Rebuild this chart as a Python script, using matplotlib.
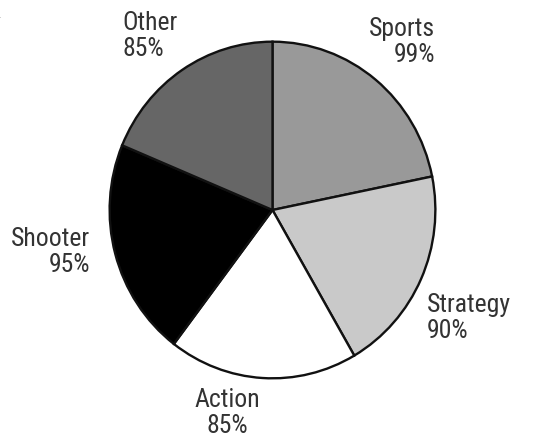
import matplotlib
matplotlib.use("Agg")
import matplotlib.pyplot as plt
from matplotlib import font_manager

categories = ["Sports", "Strategy", "Action", "Shooter", "Other"]
values = [99, 90, 85, 95, 85]
pct_labels = ["99%", "90%", "85%", "95%", "85%"]
colors = ["#999999", "#c9c9c9", "#ffffff", "#000000", "#666666"]

# pick a narrow sans font if one is installed
fonts = font_manager.fontManager.ttflist
names = {f.name for f in fonts}
fam, stretch = "Liberation Sans", "normal"
for cand in ["Liberation Sans Narrow", "Arial Narrow", "Roboto Condensed",
             "Open Sans Condensed", "Noto Sans Condensed"]:
    if cand in names:
        fam = cand
        break
else:
    for f in fonts:
        if f.name in ("Roboto", "Noto Sans", "Open Sans", "Liberation Sans") and \
                str(f.stretch) in ("condensed", "semi-condensed", "500", "625", "750"):
            fam, stretch = f.name, f.stretch
            break

W, H = 542, 440
fig = plt.figure(figsize=(W / 100, H / 100), dpi=100)
L, T, R, B = 108, 40, 437, 380
ax = fig.add_axes([L / W, 1 - B / H, (R - L) / W, (B - T) / H])
ax.pie(values, colors=colors, startangle=90, counterclock=False,
       wedgeprops=dict(edgecolor="#111111", linewidth=1.7))
ax.set_aspect("auto")
ax.set_xlim(-1.01, 1.01)
ax.set_ylim(-1.01, 1.01)
ax.axis("off")

label_pos = [(435, 42, "right"), (427, 318, "left"), (227, 413, "center"),
             (90, 252, "right"), (122, 36, "left")]
fs = 17.5 if fam == "Liberation Sans" else 18.5
for cat, pct, (px, py, ha) in zip(categories, pct_labels, label_pos):
    fig.text(px / W, 1 - py / H, f"{cat}\n{pct}", ha=ha, va="center",
             multialignment=ha, fontsize=fs, family=fam, fontstretch=stretch,
             color="#333333", linespacing=1.15)

fig.text(-6 / W, 1 - 14 / H, "a", ha="left", va="center", fontsize=11,
         family="Liberation Serif", color="#333333")

fig.savefig("out.png", dpi=100)
